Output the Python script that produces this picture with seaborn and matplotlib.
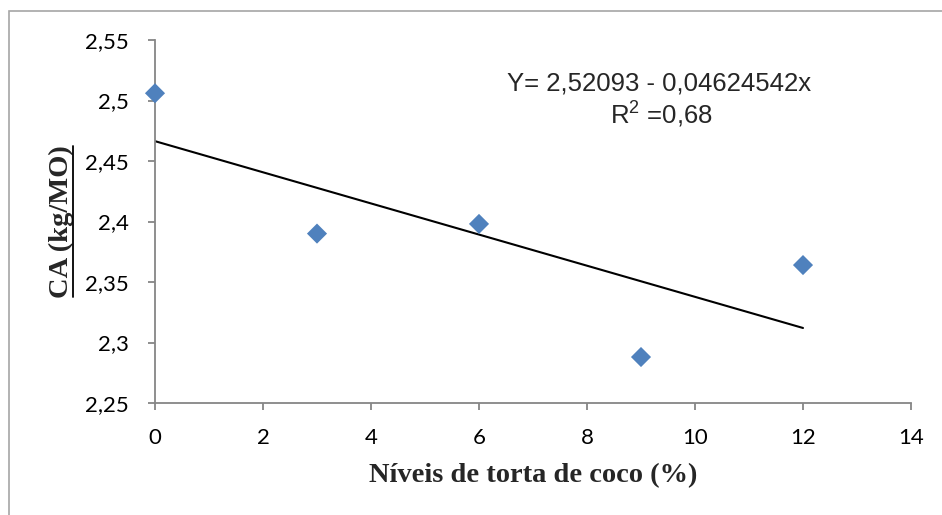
import matplotlib
matplotlib.use("Agg")
import matplotlib.pyplot as plt
import seaborn as sns
import pandas as pd
from matplotlib.patches import Rectangle
from matplotlib.lines import Line2D

# Data
niveis = [0, 3, 6, 9, 12]
ca = [2.506, 2.390, 2.398, 2.288, 2.364]
x_ticks = [0, 2, 4, 6, 8, 10, 12, 14]
y_ticks = [2.25, 2.30, 2.35, 2.40, 2.45, 2.50, 2.55]
y_tick_labels = ["2,25", "2,3", "2,35", "2,4", "2,45", "2,5", "2,55"]
equation = "Y= 2,52093 - 0,04624542x"
r2_text = r"R$^2$ =0,68"

df = pd.DataFrame({"nivel": niveis, "ca": ca})

sns.set_theme(style="white")
plt.rcParams["mathtext.fontset"] = "custom"
plt.rcParams["mathtext.rm"] = "Liberation Sans"

W, H = 942, 515
fig = plt.figure(figsize=(W / 100, H / 100), dpi=100)
ax = fig.add_axes([155 / W, 1 - 403 / H, (911 - 155) / W, (403 - 40) / H])

sns.regplot(data=df, x="nivel", y="ca", ax=ax, ci=None, marker="D",
            scatter_kws=dict(s=105, color="#4F81BD", alpha=1, edgecolor="none",
                             zorder=3, clip_on=False),
            line_kws=dict(color="black", lw=1.5, zorder=2))

ax.set_xlim(0, 14)
ax.set_ylim(2.25, 2.55)
ax.set_xticks(x_ticks)
ax.set_xticklabels([str(v) for v in x_ticks])
ax.set_yticks(y_ticks)
ax.set_yticklabels(y_tick_labels)

for s in ["top", "right"]:
    ax.spines[s].set_visible(False)
for s in ["left", "bottom"]:
    ax.spines[s].set_color("#868686")
    ax.spines[s].set_linewidth(1.3)

ax.tick_params(axis="both", which="major", direction="out", length=5, width=1.3,
               color="#868686", labelsize=16, labelcolor="black")
ax.tick_params(axis="x", pad=13, bottom=True)
ax.tick_params(axis="y", pad=14, left=True)
for lab in ax.get_xticklabels() + ax.get_yticklabels():
    lab.set_fontfamily("Lato")

ax.set_xlabel("Níveis de torta de coco (%)", fontsize=20.5, fontweight="bold",
              fontfamily="Liberation Serif", labelpad=11)
ylab = ax.set_ylabel("CA (kg/MO)", fontsize=20.5, fontweight="bold",
                     fontfamily="Liberation Serif", labelpad=8)

ax.text(0.667, 0.881, equation, transform=ax.transAxes, ha="center", va="center",
        fontsize=18.5, fontfamily="Liberation Sans")
ax.text(0.670, 0.797, r2_text, transform=ax.transAxes, ha="center", va="center",
        fontsize=18.5, fontfamily="Liberation Sans")

fig.patches.append(Rectangle((9 / W, -0.1), 1.2, 1 - 11 / H + 0.1, transform=fig.transFigure,
                             fill=False, edgecolor="#A6A6A6", lw=1.2))

# underline for the y label
fig.canvas.draw()
bb = ylab.get_window_extent()
ux = (bb.x1 - 1) / W
fig.add_artist(Line2D([ux, ux], [(bb.y0 + 1) / H, (bb.y1 - 1) / H],
                      transform=fig.transFigure, color="black", lw=1.3))

fig.savefig("out.png", dpi=100, facecolor="white")
